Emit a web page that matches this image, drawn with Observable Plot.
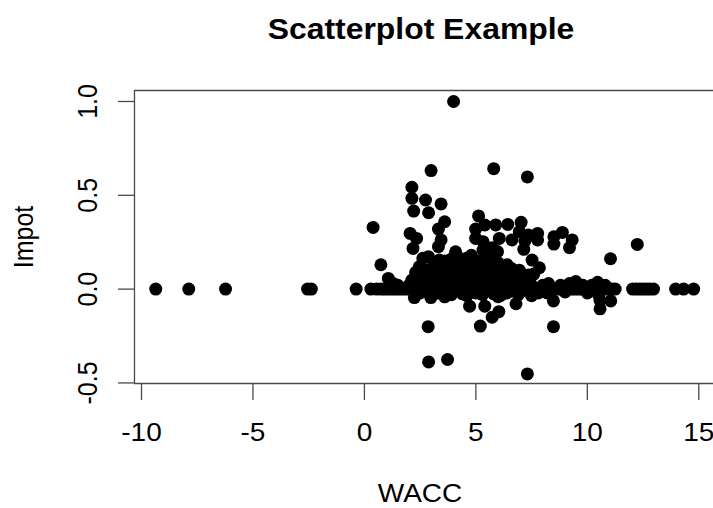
<!DOCTYPE html>
<html><head><meta charset="utf-8">
<script src="https://cdn.jsdelivr.net/npm/d3@7"></script>
<script src="https://cdn.jsdelivr.net/npm/@observablehq/plot@0.6"></script>
<style>
html,body{margin:0;padding:0;background:#fff;overflow:hidden;width:713px;height:508px;}
#title{position:absolute;left:0;top:15px;width:842px;text-align:center;font:bold 29px "Liberation Sans",Arial,sans-serif;line-height:29px;color:#000;white-space:nowrap;transform:scaleX(1.1);transform-origin:421px 0;}
#chart{position:absolute;left:0;top:60px;}
</style></head><body>
<div id="title">Scatterplot Example</div>
<div id="chart"></div>
<script>
const titleText = "Scatterplot Example";
const xLabel = "WACC";
const yLabel = "Impot";
const xTicks = [-10, -5, 0, 5, 10, 15];
const xTickLabels = ["-10", "-5", "0", "5", "10", "15"];
const yTicks = [-0.5, 0, 0.5, 1.0];
const yTickLabels = ["-0.5", "0.0", "0.5", "1.0"];

// points lying on Impot = 0
const waccZero = [-9.36, -7.88, -6.23, -2.55, -2.38, -0.37, 0.29, 0.55, 0.75, 0.9, 1.05, 1.2, 1.35, 1.5, 1.65, 1.8, 1.95, 2.1, 2.25, 2.4, 2.55, 2.7, 2.85, 3.0, 3.15, 3.3, 3.45, 3.6, 3.75, 3.9, 4.05, 4.2, 4.35, 4.5, 4.65, 4.8, 4.95, 5.1, 5.25, 5.4, 5.55, 5.7, 5.85, 6.0, 6.15, 6.3, 6.45, 6.6, 6.75, 6.9, 7.05, 7.2, 7.35, 7.5, 7.65, 7.8, 7.95, 8.1, 8.25, 8.4, 8.55, 8.7, 8.85, 9.0, 9.15, 9.3, 9.45, 9.6, 9.75, 9.9, 10.05, 10.2, 10.35, 10.5, 10.65, 10.8, 10.95, 11.1, 11.25, 12.03, 12.2, 12.35, 12.5, 12.65, 12.8, 12.97, 13.96, 14.32, 14.77];
const impotZero = [0, 0, 0, 0, 0, 0, 0, 0, 0, 0, 0, 0, 0, 0, 0, 0, 0, 0, 0, 0, 0, 0, 0, 0, 0, 0, 0, 0, 0, 0, 0, 0, 0, 0, 0, 0, 0, 0, 0, 0, 0, 0, 0, 0, 0, 0, 0, 0, 0, 0, 0, 0, 0, 0, 0, 0, 0, 0, 0, 0, 0, 0, 0, 0, 0, 0, 0, 0, 0, 0, 0, 0, 0, 0, 0, 0, 0, 0, 0, 0, 0, 0, 0, 0, 0, 0, 0, 0, 0];

// points near the zero band
const waccBand = [1.07, 2.13, 2.6, 2.8, 3.0, 3.2, 3.4, 3.6, 3.7, 3.9, 4.0, 4.2, 4.3, 4.5, 4.7, 4.9, 5.0, 5.1, 5.2, 5.3, 5.4, 5.5, 5.6, 5.7, 5.8, 5.9, 6.0, 6.2, 6.3, 6.5, 6.6, 6.8, 7.0, 7.2, 7.5, 3.1, 3.5, 4.1, 4.6, 2.4, 2.0, 1.5, 1.3, 8.0, 8.26, 8.8, 9.2, 9.48, 9.8, 10.2, 10.46, 10.8, 2.5, 3.3, 4.4, 5.0, 5.8, 6.4, 7.0, 7.8, 9.0, 10.0, 10.5, 3.9, 4.6, 5.3, 6.0, 6.9, 7.5, 8.2, 3.0];
const impotBand = [0.057, 0.048, 0.08, 0.1, 0.05, 0.12, 0.08, 0.15, 0.1, 0.16, 0.09, 0.13, 0.05, 0.1, 0.06, 0.12, 0.08, 0.04, 0.15, 0.1, 0.06, 0.13, 0.03, 0.09, 0.05, 0.11, 0.07, 0.04, 0.08, 0.03, 0.06, 0.02, 0.05, 0.03, 0.02, 0.02, 0.03, 0.02, 0.02, 0.03, 0.02, 0.02, 0.03, 0.02, 0.03, 0.02, 0.03, 0.04, 0.02, 0.02, 0.036, 0.02, -0.02, -0.02, -0.025, -0.02, -0.025, -0.02, -0.015, -0.02, -0.015, -0.02, -0.03, -0.03, -0.035, -0.03, -0.04, -0.03, -0.035, -0.02, -0.03];

// the dense cluster above the band
const waccCluster = [2.7, 2.9, 3.1, 3.3, 3.5, 3.7, 3.9, 4.1, 4.3, 4.5, 4.7, 4.9, 5.1, 5.3, 5.5, 5.7, 5.9, 6.1, 6.3, 6.5, 6.7, 6.9, 7.1, 3.8, 4.2, 4.6, 5.0, 5.4, 5.8, 6.2, 6.6, 4.4, 4.8, 5.2, 5.6, 6.0, 3.0, 3.4, 2.5, 2.3, 6.4, 6.8, 7.4, 7.6];
const impotCluster = [0.03, 0.06, 0.09, 0.04, 0.07, 0.05, 0.1, 0.06, 0.11, 0.04, 0.09, 0.05, 0.1, 0.04, 0.07, 0.12, 0.03, 0.1, 0.05, 0.09, 0.04, 0.07, 0.03, 0.13, 0.17, 0.14, 0.12, 0.17, 0.15, 0.12, 0.11, 0.15, 0.18, 0.12, 0.18, 0.14, 0.11, 0.14, 0.06, 0.09, 0.13, 0.06, 0.05, 0.08];

// scattered points above and below
const waccSpread = [4.0, 2.99, 5.8, 7.31, 2.13, 2.13, 2.74, 3.44, 2.21, 2.88, 5.12, 3.6, 3.32, 0.39, 4.99, 5.4, 5.89, 6.43, 7.03, 6.95, 2.05, 2.34, 2.18, 3.44, 4.99, 5.32, 6.05, 6.62, 7.36, 7.77, 7.2, 7.77, 8.5, 8.88, 8.5, 9.32, 9.2, 12.24, 11.04, 7.15, 5.73, 5.32, 5.97, 0.74, 3.32, 2.87, 2.62, 2.46, 3.36, 4.09, 4.58, 4.42, 3.85, 7.52, 7.85, 6.95, 7.36, 5.56, 5.97, 5.56, 2.24, 2.98, 3.6, 6.13, 6.8, 8.48, 10.57, 11.05, 10.57, 4.72, 5.4, 6.03, 5.73, 5.2, 2.86, 8.48, 2.88, 3.73, 7.31];
const impotSpread = [1.0, 0.632, 0.642, 0.598, 0.543, 0.484, 0.475, 0.454, 0.416, 0.407, 0.39, 0.359, 0.32, 0.329, 0.32, 0.342, 0.342, 0.345, 0.356, 0.306, 0.297, 0.27, 0.217, 0.262, 0.27, 0.253, 0.27, 0.262, 0.288, 0.297, 0.256, 0.262, 0.279, 0.302, 0.24, 0.262, 0.221, 0.238, 0.162, 0.212, 0.221, 0.208, 0.2, 0.13, 0.226, 0.173, 0.164, 0.119, 0.155, 0.199, 0.164, 0.128, 0.128, 0.155, 0.114, 0.101, 0.075, 0.164, 0.119, 0.11, -0.045, -0.045, -0.041, -0.032, -0.078, -0.063, -0.059, -0.063, -0.105, -0.091, -0.091, -0.12, -0.15, -0.197, -0.2, -0.2, -0.388, -0.375, -0.452];

const xDomain = [-10.314, 15.66];
const yDomain = [-0.503, 1.0586];
const SX = 1.12;

const pts = [];
[[waccZero, impotZero], [waccBand, impotBand], [waccCluster, impotCluster], [waccSpread, impotSpread]].forEach(([xs, ys]) => {
  xs.forEach((x, i) => pts.push({x, y: ys[i]}));
});
const yTickData = yTicks.map((v, i) => ({v, label: yTickLabels[i]}));
const lineColor = "#4a4a4a";
const font = '"Liberation Sans", Arial, sans-serif';

const plot = Plot.plot({
  width: 713, height: 448,
  marginLeft: 134, marginRight: 0, marginTop: 30, marginBottom: 125,
  style: {fontFamily: font, fontSize: "25px", background: "white", color: "black", overflow: "visible"},
  x: {domain: xDomain, axis: null},
  y: {domain: yDomain, axis: null},
  marks: [
    Plot.dot(pts, {x: "x", y: "y", r: 6.5, fill: "black", stroke: null}),
    Plot.ruleY([yDomain[1]], {stroke: lineColor, strokeWidth: 1.3}),
    Plot.ruleY([yDomain[0]], {stroke: lineColor, strokeWidth: 1.3}),
    Plot.ruleX([xDomain[0]], {stroke: lineColor, strokeWidth: 1.3}),
    Plot.axisX(xTicks, {anchor: "bottom", tickSize: 17, tickPadding: 23, stroke: lineColor, strokeWidth: 1.3,
      tickFormat: (d) => xTickLabels[xTicks.indexOf(d)], label: null, fontSize: 25, fill: "black"}),
    Plot.axisY(yTicks, {anchor: "left", tickSize: 16, stroke: lineColor, strokeWidth: 1.3, tickFormat: () => "", label: null}),
    Plot.text(yTickData, {y: "v", text: "label", frameAnchor: "left", dx: -38.5, rotate: -90, lineAnchor: "bottom", textAnchor: "middle", fontSize: 25, fill: "black"}),
    Plot.text([yLabel], {frameAnchor: "left", dx: -103, rotate: -90, lineAnchor: "bottom", textAnchor: "middle", fontSize: 25, fill: "black"}),
    Plot.text([xLabel], {frameAnchor: "bottom", dx: -4, dy: 118, lineAnchor: "bottom", textAnchor: "middle", fontSize: 25, fill: "black"})
  ]
});
document.getElementById("chart").appendChild(plot);

// horizontal stretch of the lettering, as in the reference
const svgNS = "http://www.w3.org/2000/svg";
Array.from(plot.querySelectorAll("text")).forEach((t) => {
  const g = document.createElementNS(svgNS, "g");
  t.parentNode.insertBefore(g, t);
  g.appendChild(t);
  const b = g.getBBox();
  const cx = b.x + b.width / 2;
  g.setAttribute("transform", `translate(${cx},0) scale(${SX},1) translate(${-cx},0)`);
});
</script>
</body></html>
